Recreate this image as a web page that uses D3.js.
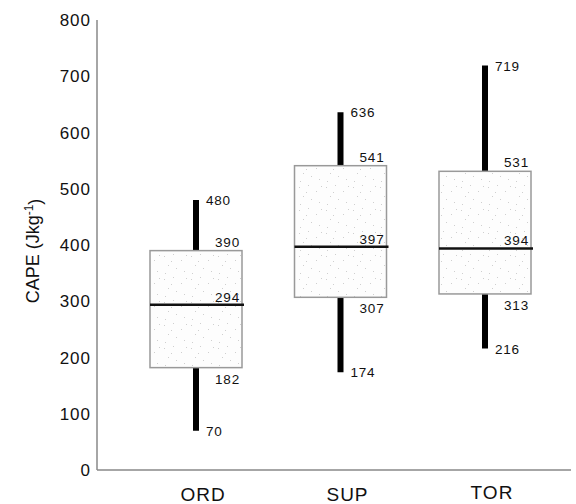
<!DOCTYPE html>
<html>
<head>
<meta charset="utf-8">
<script src="https://cdn.jsdelivr.net/npm/d3@7"></script>
<style>
	body { margin: 0; background: #fff; }
	text { font-family: "Liberation Sans", Arial, sans-serif; fill: #111; }
</style>
</head>
<body>
<script>
var categories = ["ORD", "SUP", "TOR"];
var whiskerLow = [70, 174, 216];
var q1 = [182, 307, 313];
var median = [294, 397, 394];
var q3 = [390, 541, 531];
var whiskerHigh = [480, 636, 719];
var yTicks = [0, 100, 200, 300, 400, 500, 600, 700, 800];

(function(){
	var svg = d3.select("body").append("svg")
		.attr("width", 576)
		.attr("height", 504);

	var y = d3.scaleLinear().domain([0, 800]).range([470, 20]),
		x = d3.scalePoint().domain(categories).range([196, 485]),
		boxW = 92;

	// speckled fill for the boxes
	var pat = svg.append("defs").append("pattern")
		.attr("id", "speckle")
		.attr("patternUnits", "userSpaceOnUse")
		.attr("width", 27)
		.attr("height", 23);
	pat.append("rect").attr("width", 27).attr("height", 23).attr("fill", "#fdfdfd");
	[[2, 3], [11, 1], [19, 7], [24, 2], [6, 12], [14, 15], [22, 18], [3, 20], [9, 8]].forEach(function(p) {
		pat.append("rect")
			.attr("x", p[0]).attr("y", p[1])
			.attr("width", 1).attr("height", 1)
			.attr("fill", "#cfcfcf");
	});

	// axes
	svg.append("line")
		.attr("x1", 97).attr("x2", 97)
		.attr("y1", y(800)).attr("y2", y(0))
		.attr("stroke", "#888").attr("stroke-width", 1.5);
	svg.append("line")
		.attr("x1", 97).attr("x2", 571)
		.attr("y1", y(0)).attr("y2", y(0))
		.attr("stroke", "#888").attr("stroke-width", 1.5);

	svg.selectAll("text.ytick").data(yTicks).enter()
		.append("text")
		.classed("ytick", true)
		.attr("x", 91)
		.attr("y", function(d) { return y(d); })
		.attr("dy", "0.36em")
		.attr("text-anchor", "end")
		.style("font-size", "17px")
		.style("letter-spacing", "1px")
		.text(function(d) { return d; });

	var title = svg.append("text")
		.attr("transform", "translate(39,251) rotate(-90)")
		.attr("text-anchor", "middle")
		.style("font-size", "18px");
	title.append("tspan").text("CAPE (Jkg");
	title.append("tspan").attr("dy", "-0.5em").style("font-size", "12px").text("-1");
	title.append("tspan").attr("dy", "0.45em").text(")");

	svg.selectAll("text.xcat").data(categories).enter()
		.append("text")
		.classed("xcat", true)
		.attr("x", function(d) { return x(d) + 7; })
		.attr("y", function(d, i) { return i === 2 ? 499 : 501; })
		.attr("text-anchor", "middle")
		.style("font-size", "19px")
		.style("letter-spacing", "1px")
		.text(function(d) { return d; });

	var idx = d3.range(categories.length);

	// whiskers
	svg.selectAll("line.whisker").data(idx).enter()
		.append("line")
		.classed("whisker", true)
		.attr("x1", function(i) { return x(categories[i]); })
		.attr("x2", function(i) { return x(categories[i]); })
		.attr("y1", function(i) { return y(whiskerLow[i]); })
		.attr("y2", function(i) { return y(whiskerHigh[i]); })
		.attr("stroke", "#000").attr("stroke-width", 6);

	// boxes
	svg.selectAll("rect.box").data(idx).enter()
		.append("rect")
		.classed("box", true)
		.attr("x", function(i) { return x(categories[i]) - boxW / 2; })
		.attr("y", function(i) { return y(q3[i]); })
		.attr("width", boxW)
		.attr("height", function(i) { return y(q1[i]) - y(q3[i]); })
		.attr("fill", "url(#speckle)")
		.attr("stroke", "#999").attr("stroke-width", 1.5);

	// medians
	svg.selectAll("line.median").data(idx).enter()
		.append("line")
		.classed("median", true)
		.attr("x1", function(i) { return x(categories[i]) - boxW / 2; })
		.attr("x2", function(i) { return x(categories[i]) + boxW / 2 + 2; })
		.attr("y1", function(i) { return y(median[i]); })
		.attr("y2", function(i) { return y(median[i]); })
		.attr("stroke", "#111").attr("stroke-width", 2.5);

	// value labels
	var labels = [];
	idx.forEach(function(i) {
		var cx = x(categories[i]), right = cx + boxW / 2 - 2;
		labels.push({x: cx + 10, y: y(whiskerHigh[i]) + 5, a: "start", t: whiskerHigh[i]});
		labels.push({x: cx + 10, y: y(whiskerLow[i]) + 5, a: "start", t: whiskerLow[i]});
		labels.push({x: right, y: y(q3[i]) - 4, a: "end", t: q3[i]});
		labels.push({x: right, y: y(median[i]) - 3, a: "end", t: median[i]});
		labels.push({x: right, y: y(q1[i]) + 16, a: "end", t: q1[i]});
	});
	svg.selectAll("text.val").data(labels).enter()
		.append("text")
		.classed("val", true)
		.attr("x", function(d) { return d.x; })
		.attr("y", function(d) { return d.y; })
		.attr("text-anchor", function(d) { return d.a; })
		.style("font-size", "13.5px")
		.style("letter-spacing", "0.8px")
		.text(function(d) { return d.t; });
}());
</script>
</body>
</html>
